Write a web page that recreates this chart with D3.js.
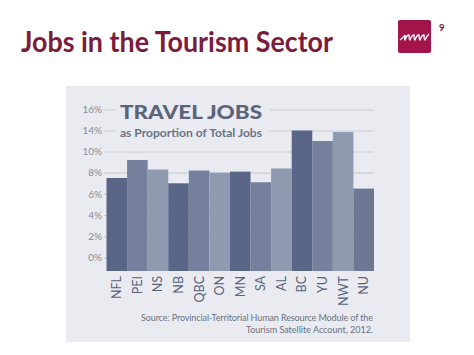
<!DOCTYPE html>
<html>
<head>
<meta charset="utf-8">
<script src="https://cdn.jsdelivr.net/npm/d3@7"></script>
<style>
  body { margin: 0; background: #fff; }
  text { font-family: Lato, "Open Sans", sans-serif; }
</style>
</head>
<body>
<svg width="474" height="355"></svg>
<script>
var provinces = ['NFL', 'PEI', 'NS', 'NB', 'QBC', 'ON', 'MN', 'SA', 'AL', 'BC', 'YU', 'NWT', 'NU'];
var jobShare = [7.5, 9.2, 8.3, 7.0, 8.2, 8.0, 8.1, 7.1, 8.4, 14.0, 12.0, 13.7, 6.5];
var tickValues = [0, 2, 4, 6, 8, 10, 14, 16];
var tickLabels = ['0%', '2%', '4%', '6%', '8%', '10%', '14%', '16%'];
var barColors = ['#5a6688', '#75809c', '#8f99b0', '#5a6688', '#75809c', '#8f99b0', '#5a6688',
                 '#75809c', '#8f99b0', '#5a6688', '#75809c', '#8f99b0', '#6c7794'];

var svg = d3.select('svg');

// slide title
svg.append('text')
  .attr('x', 21)
  .attr('y', 52)
  .attr('textLength', 312)
  .attr('lengthAdjust', 'spacingAndGlyphs')
  .style('font-size', '28px')
  .style('font-weight', 700)
  .style('fill', '#7a1d3d')
  .text('Jobs in the Tourism Sector');

// logo
var logo = svg.append('g').attr('transform', 'translate(398, 20)');
logo.append('rect')
  .attr('width', 33)
  .attr('height', 33)
  .attr('rx', 2)
  .attr('fill', '#a3154a');
logo.append('path')
  .attr('d', 'M2,20 C4,18 6,17 7,15 C7,18 6,20 7,20 C8,17 10,15 11,15 C11,18 11,20 12,20 ' +
             'C13,17 15,15 16,15 C16,18 16,20 17,20 C18,17 20,15 21,15 C21,18 21,20 22,20 ' +
             'C23,17 25,15 26,15 C26,18 26,20 27,20 C28,17 30,15 31,14')
  .attr('fill', 'none')
  .attr('stroke', '#fff')
  .attr('stroke-width', 1.3);

svg.append('text')
  .attr('x', 439)
  .attr('y', 31)
  .style('font-size', '9.5px')
  .style('font-weight', 700)
  .style('fill', '#6b1a33')
  .text('9');

// chart panel
svg.append('rect')
  .attr('x', 66)
  .attr('y', 86)
  .attr('width', 344)
  .attr('height', 256)
  .attr('fill', '#e9ebf1');

var plotBottom = 271;

var xScale = d3.scaleBand()
  .domain(provinces)
  .range([106.5, 374])
  .padding(0);

// axis labels are evenly spaced even though 12% is skipped
var yScale = d3.scaleLinear()
  .domain([0, 10, 14, 16])
  .range([257.5, 151.5, 130.5, 109.5]);

var yAxis = d3.axisLeft(yScale)
  .tickValues(tickValues)
  .tickFormat((d, i) => tickLabels[i])
  .tickSize(-270)
  .tickPadding(2);

var gy = svg.append('g')
  .attr('transform', 'translate(104, 0)')
  .call(yAxis);

gy.select('.domain').remove();
gy.selectAll('.tick line')
  .attr('stroke', '#c9cdd7')
  .attr('stroke-width', 1.2);
gy.selectAll('.tick text')
  .attr('x', -2)
  .style('font-family', 'Lato, sans-serif')
  .style('font-size', '10px')
  .style('fill', '#868c9c');

// bars
svg.append('g')
  .selectAll('rect')
  .data(jobShare)
  .enter()
  .append('rect')
    .attr('x', (d, i) => xScale(provinces[i]))
    .attr('y', d => yScale(d))
    .attr('width', xScale.bandwidth())
    .attr('height', d => plotBottom - yScale(d))
    .attr('fill', (d, i) => barColors[i]);

// province labels
svg.append('g')
  .selectAll('text')
  .data(provinces)
  .enter()
  .append('text')
    .attr('transform', d => `translate(${xScale(d) + xScale.bandwidth() / 2}, 276) rotate(-90)`)
    .attr('dy', '0.36em')
    .style('text-anchor', 'end')
    .style('font-size', '12.5px')
    .style('fill', '#5a6479')
    .text(d => d);

// title block, masks the gridlines behind it
svg.append('rect')
  .attr('x', 116)
  .attr('y', 100)
  .attr('width', 154)
  .attr('height', 40)
  .attr('fill', '#e9ebf1');

svg.append('text')
  .attr('x', 120)
  .attr('y', 118.5)
  .attr('textLength', 142)
  .attr('lengthAdjust', 'spacingAndGlyphs')
  .style('font-size', '19.5px')
  .style('font-weight', 900)
  .style('fill', '#5b6479')
  .text('TRAVEL JOBS');

svg.append('text')
  .attr('x', 120)
  .attr('y', 137)
  .attr('textLength', 142)
  .attr('lengthAdjust', 'spacingAndGlyphs')
  .style('font-size', '11px')
  .style('font-weight', 700)
  .style('fill', '#6b7386')
  .text('as Proportion of Total Jobs');

// source note
svg.append('text')
  .attr('x', 373)
  .attr('y', 321)
  .attr('textLength', 232)
  .style('text-anchor', 'end')
  .style('font-size', '9px')
  .style('fill', '#6b7282')
  .text('Source: Provincial-Territorial Human Resource Module of the');

svg.append('text')
  .attr('x', 373)
  .attr('y', 333)
  .style('text-anchor', 'end')
  .style('font-size', '9px')
  .style('fill', '#6b7282')
  .text('Tourism Satellite Account, 2012.');
</script>
</body>
</html>
